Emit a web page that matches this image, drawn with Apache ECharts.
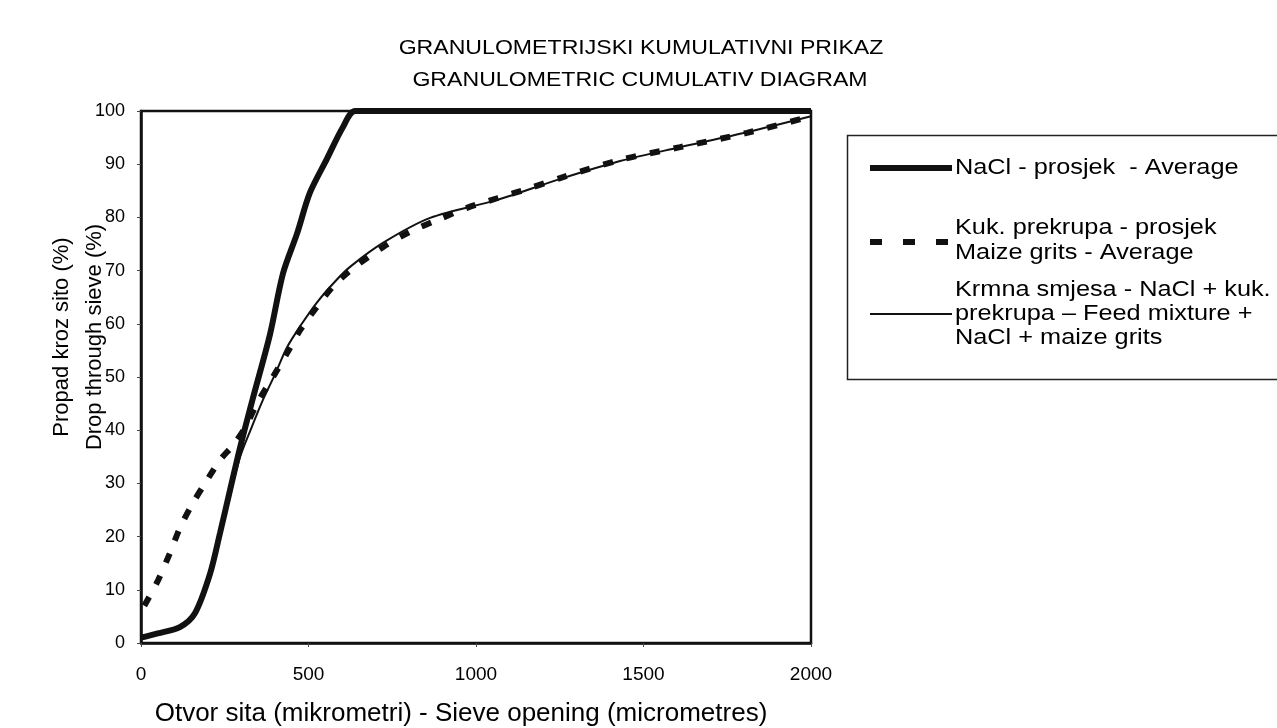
<!DOCTYPE html>
<html><head><meta charset="utf-8">
<script src="https://cdn.jsdelivr.net/npm/echarts@6/dist/echarts.min.js"></script>
<style>html,body{margin:0;padding:0;background:#fff}#c{width:1277px;height:728px}</style>
</head><body><div id="c"></div>
<script>
const FONT = '"Liberation Sans", Arial, sans-serif';
const titleLines = ['GRANULOMETRIJSKI KUMULATIVNI PRIKAZ', 'GRANULOMETRIC CUMULATIV DIAGRAM'];
const yNameLines = ['Propad kroz sito (%)', 'Drop through sieve (%)'];
const xName = 'Otvor sita (mikrometri) - Sieve opening (micrometres)';
const seriesNames = [
  'NaCl - prosjek  - Average',
  'Kuk. prekrupa - prosjek\nMaize grits - Average',
  'Krmna smjesa - NaCl + kuk.\nprekrupa \u2013 Feed mixture +\nNaCl + maize grits'
];
// sieve opening (micrometres), cumulative drop (%)
const naclX = [0, 50, 116, 161, 206, 236, 266, 296, 334, 385, 424, 466, 504, 555, 603, 640, 1000, 1500, 2000];
const naclY = [1, 1.8, 3, 5.6, 13, 20.7, 28.8, 36.8, 46, 58, 69.5, 77, 84.6, 91, 97, 100, 100, 100, 100];
const maizeX = [10, 51, 87, 116, 152, 191, 236, 275, 310, 346, 394, 436, 475, 525, 573, 624, 722, 803, 884, 973, 1063, 1161, 1251, 1430, 1609, 1809, 2000];
const maizeY = [7, 11.8, 17, 21.6, 26, 30, 34.4, 37.2, 40.4, 45, 50, 54.5, 58.8, 63.2, 67, 70, 74.4, 77.3, 79.5, 81.8, 83.6, 85.5, 87.4, 90.8, 93.2, 95.9, 99];
const mixX = [0, 60, 120, 170, 210, 250, 296, 330, 364, 400, 436, 480, 525, 580, 624, 722, 863, 1063, 1250, 1430, 1609, 1809, 2000];
const mixY = [1, 1.8, 3.2, 6.5, 14, 24, 35, 40.5, 45.7, 50.5, 55.6, 60, 64, 68, 70.7, 75.2, 79.9, 83.3, 87.2, 90.6, 93.2, 96, 99];
const xTicks = [0, 500, 1000, 1500, 2000];

const zip = (a, b) => a.map((v, i) => [v, b[i]]);

// legend layout (manual, to reproduce the boxed multi-line legend)
const legendRows = [
  { lineY: 168, textY: [168], dash: null, width: 6 },
  { lineY: 242, textY: [228, 253], dash: [12, 21], width: 6 },
  { lineY: 314, textY: [290, 314, 338], dash: null, width: 2 }
];
const legendGraphics = [
  { type: 'rect', left: 845, top: 133, shape: { width: 440, height: 244 }, style: { fill: 'none', stroke: '#222', lineWidth: 1.5 }, silent: true }
];
legendRows.forEach((r, i) => {
  legendGraphics.push({ type: 'line', shape: { x1: 870, y1: r.lineY, x2: 952, y2: r.lineY }, style: { stroke: '#111', lineWidth: r.width, lineDash: r.dash || null }, silent: true });
  seriesNames[i].split('\n').forEach((t, j) => {
    legendGraphics.push({ type: 'text', x: 955, y: r.textY[j], scaleX: 1.15, style: { text: t, fontSize: 22, fontFamily: FONT, fill: '#000', textAlign: 'left', textVerticalAlign: 'middle' }, silent: true });
  });
});

const chart = echarts.init(document.getElementById('c'));
chart.setOption({
  animation: false,
  backgroundColor: '#fff',
  textStyle: { fontFamily: FONT, color: '#000' },
  grid: { left: 141, right: 466, top: 111, bottom: 85, show: true, borderColor: '#111', borderWidth: 2.5, backgroundColor: 'transparent' },
  xAxis: {
    type: 'value', min: xTicks[0], max: xTicks[xTicks.length - 1], interval: 500,
    axisLine: { show: true, lineStyle: { color: '#111', width: 2.5 } },
    axisTick: { show: true, length: 4, lineStyle: { color: '#444' } },
    axisLabel: { fontSize: 19, color: '#000', margin: 22, fontFamily: FONT, formatter: v => String(v) },
    splitLine: { show: false }
  },
  yAxis: {
    type: 'value', min: 0, max: 100, interval: 10,
    axisLine: { show: true, lineStyle: { color: '#111', width: 2.5 } },
    axisTick: { show: true, length: 4, lineStyle: { color: '#444' } },
    axisLabel: { fontSize: 18, color: '#000', margin: 16, fontFamily: FONT },
    splitLine: { show: false }
  },
  graphic: [
    { type: 'text', x: 641, y: 48, scaleX: 1.1, style: { text: titleLines[0], fontSize: 21, fontFamily: FONT, fill: '#000', textAlign: 'center', textVerticalAlign: 'middle' } },
    { type: 'text', x: 640, y: 80, scaleX: 1.1, style: { text: titleLines[1], fontSize: 21, fontFamily: FONT, fill: '#000', textAlign: 'center', textVerticalAlign: 'middle' } },
    { type: 'text', x: 78, y: 337, rotation: Math.PI / 2, style: { text: yNameLines.join('\n'), fontSize: 22, lineHeight: 33, fontFamily: FONT, fill: '#000', textAlign: 'center', textVerticalAlign: 'middle' } },
    { type: 'text', x: 461, y: 714, style: { text: xName, fontSize: 26, fontFamily: FONT, fill: '#000', textAlign: 'center', textVerticalAlign: 'middle' } }
  ].concat(legendGraphics),
  series: [
    { name: seriesNames[0], type: 'line', data: zip(naclX, naclY), showSymbol: false, symbol: 'none', smooth: 0.3, lineStyle: { color: '#111', width: 6 }, itemStyle: { color: '#111' }, z: 3 },
    { name: seriesNames[1], type: 'line', data: zip(maizeX, maizeY), showSymbol: false, symbol: 'none', smooth: 0.3, lineStyle: { color: '#111', width: 6, type: [10, 14] }, itemStyle: { color: '#111' }, z: 2 },
    { name: seriesNames[2], type: 'line', data: zip(mixX, mixY), showSymbol: false, symbol: 'none', smooth: 0.3, lineStyle: { color: '#111', width: 2 }, itemStyle: { color: '#111' }, z: 4 }
  ]
});
</script></body></html>
